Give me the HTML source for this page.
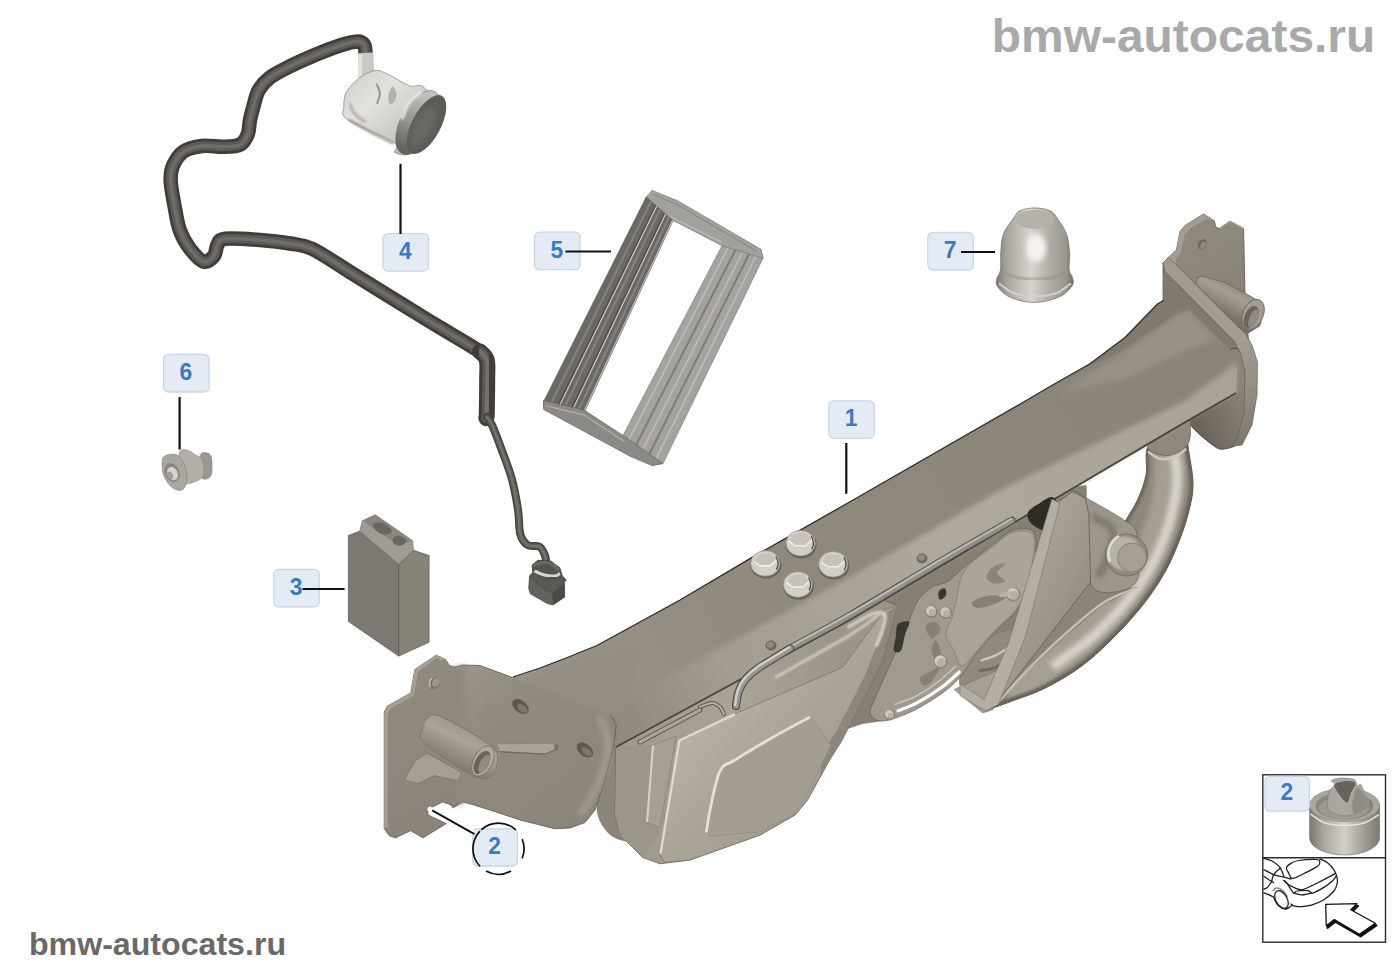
<!DOCTYPE html>
<html><head><meta charset="utf-8"><title>bmw-autocats.ru</title>
<style>
html,body{margin:0;padding:0;background:#fff;}
body{width:1400px;height:980px;overflow:hidden;position:relative;font-family:"Liberation Sans",sans-serif;}
svg{position:absolute;left:0;top:0;display:block}
text{font-family:"Liberation Sans",sans-serif;font-weight:bold}
</style></head><body>
<svg width="1400" height="980" viewBox="0 0 1400 980">
<defs>
<filter id="b0" x="-10%" y="-10%" width="120%" height="120%"><feGaussianBlur stdDeviation="0.35"/></filter>
<filter id="b1" x="-10%" y="-10%" width="120%" height="120%"><feGaussianBlur stdDeviation="0.7"/></filter>
<filter id="b2" x="-10%" y="-10%" width="120%" height="120%"><feGaussianBlur stdDeviation="1.2"/></filter>
<filter id="b3" x="-20%" y="-20%" width="140%" height="140%"><feGaussianBlur stdDeviation="2.5"/></filter>
<filter id="b5" x="-20%" y="-20%" width="140%" height="140%"><feGaussianBlur stdDeviation="5"/></filter>
<linearGradient id="sg1" x1="0" y1="0" x2="1" y2="1"><stop offset="0" stop-color="#cfcdc8"/><stop offset="0.35" stop-color="#e4e2de"/><stop offset="0.7" stop-color="#c8c6c1"/><stop offset="1" stop-color="#a9a7a2"/></linearGradient>
<linearGradient id="sg2" gradientUnits="userSpaceOnUse" x1="395" y1="100" x2="440" y2="150"><stop offset="0" stop-color="#d9d7d3"/><stop offset="0.35" stop-color="#a5a3a0"/><stop offset="1" stop-color="#5a5854"/></linearGradient>
<linearGradient id="sg3" x1="0" y1="0" x2="1" y2="0"><stop offset="0" stop-color="#5e5c58"/><stop offset="0.45" stop-color="#96948f"/><stop offset="1" stop-color="#c9c7c3"/></linearGradient>
<linearGradient id="rb1" gradientUnits="userSpaceOnUse" x1="1180" y1="220" x2="1250" y2="340"><stop offset="0" stop-color="#8f897e"/><stop offset="1" stop-color="#868075"/></linearGradient>
<linearGradient id="rb2" gradientUnits="userSpaceOnUse" x1="1165" y1="260" x2="1250" y2="440"><stop offset="0" stop-color="#a09a8f"/><stop offset="0.5" stop-color="#a39d92"/><stop offset="0.75" stop-color="#958f84"/><stop offset="1" stop-color="#7d776c"/></linearGradient>
<linearGradient id="rb3" gradientUnits="userSpaceOnUse" x1="1195" y1="420" x2="1250" y2="400"><stop offset="0" stop-color="#69635a"/><stop offset="1" stop-color="#8a8479"/></linearGradient>
<linearGradient id="rt1" gradientUnits="userSpaceOnUse" x1="1232" y1="283" x2="1218" y2="310"><stop offset="0" stop-color="#8d877c"/><stop offset="0.35" stop-color="#a59f94"/><stop offset="1" stop-color="#7a7469"/></linearGradient>
<clipPath id="hclip"><path d="M1186,425 C1186.3,428.5 1186.8,436.3 1188,446 C1189.2,455.7 1192.8,472.6 1193,483 C1193.2,493.4 1191.6,499.3 1189.5,508.5 C1187.4,517.7 1184.3,527.6 1180.3,538 C1176.3,548.4 1171.7,560.0 1165.6,571 C1159.5,582.0 1152.2,593.0 1143.6,604 C1135.0,615.0 1124.6,626.6 1114.2,637 C1103.8,647.4 1092.8,657.8 1081.2,666.4 C1069.6,675.0 1056.1,682.6 1044.5,688.4 C1032.9,694.2 1021.2,697.6 1011.4,701.3 C1001.6,705.0 990.0,709.0 985.7,710.5 L980,698 C987.0,691.3 1008.7,670.7 1022,658 C1035.3,645.3 1049.0,633.7 1060,622 C1071.0,610.3 1080.0,599.0 1088,588 C1096.0,577.0 1101.8,567.0 1108,556 C1114.2,545.0 1120.1,531.3 1125,522 C1129.9,512.7 1134.0,507.8 1137.5,500 C1141.0,492.2 1144.4,483.5 1146,475 C1147.6,466.5 1144.7,455.3 1147,449 C1149.3,442.7 1157.8,439.0 1160,437Z"/></clipPath>
<linearGradient id="hs1" gradientUnits="userSpaceOnUse" x1="640" y1="760" x2="860" y2="700"><stop offset="0" stop-color="#a19b90"/><stop offset="0.5" stop-color="#a8a297"/><stop offset="1" stop-color="#9a9489"/></linearGradient>
<linearGradient id="hs2" gradientUnits="userSpaceOnUse" x1="690" y1="735" x2="800" y2="840"><stop offset="0" stop-color="#b6b0a6"/><stop offset="0.35" stop-color="#aca69b"/><stop offset="1" stop-color="#a09a8f"/></linearGradient>
<linearGradient id="bt" gradientUnits="userSpaceOnUse" x1="560" y1="700" x2="1200" y2="340"><stop offset="0" stop-color="#989287"/><stop offset="0.35" stop-color="#8f897d"/><stop offset="1" stop-color="#8a8478"/></linearGradient>
<linearGradient id="bf" gradientUnits="userSpaceOnUse" x1="600" y1="740" x2="1230" y2="380"><stop offset="0" stop-color="#8b857a"/><stop offset="0.2" stop-color="#a29c91"/><stop offset="0.55" stop-color="#aea89d"/><stop offset="1" stop-color="#a8a297"/></linearGradient>
<linearGradient id="lb1" gradientUnits="userSpaceOnUse" x1="390" y1="700" x2="460" y2="830"><stop offset="0" stop-color="#8f897e"/><stop offset="1" stop-color="#89837a"/></linearGradient>
<linearGradient id="lb2" gradientUnits="userSpaceOnUse" x1="470" y1="670" x2="600" y2="820"><stop offset="0" stop-color="#999388"/><stop offset="0.3" stop-color="#8f897e"/><stop offset="1" stop-color="#8a8479"/></linearGradient>
<linearGradient id="lt1" gradientUnits="userSpaceOnUse" x1="462" y1="727" x2="445" y2="762"><stop offset="0" stop-color="#9e988d"/><stop offset="0.3" stop-color="#aaa499"/><stop offset="1" stop-color="#7f796e"/></linearGradient>
<linearGradient id="pl1" gradientUnits="userSpaceOnUse" x1="1010" y1="600" x2="1090" y2="640"><stop offset="0" stop-color="#a8a297"/><stop offset="0.5" stop-color="#9b958a"/><stop offset="1" stop-color="#8f897e"/></linearGradient>
<linearGradient id="cp1" gradientUnits="userSpaceOnUse" x1="997" y1="0" x2="1072" y2="0"><stop offset="0" stop-color="#7f7c75"/><stop offset="0.12" stop-color="#a5a29a"/><stop offset="0.45" stop-color="#d8d5ce"/><stop offset="0.7" stop-color="#b0ada5"/><stop offset="0.92" stop-color="#9a978f"/><stop offset="1" stop-color="#77746d"/></linearGradient>
<linearGradient id="in1" gradientUnits="userSpaceOnUse" x1="1309" y1="0" x2="1380" y2="0"><stop offset="0" stop-color="#77746d"/><stop offset="0.2" stop-color="#a8a59d"/><stop offset="0.5" stop-color="#d2cfc8"/><stop offset="0.75" stop-color="#a5a29a"/><stop offset="1" stop-color="#7a7770"/></linearGradient>
</defs>
<path d="M365.5,52 C365.2,50.8 365.3,46.2 364,44.5 C362.7,42.8 361.5,41.3 357.5,41.5 C353.5,41.7 347.1,43.2 340,45.5 C332.9,47.8 323.3,51.5 315,55 C306.7,58.5 297.5,62.5 290,66.3 C282.5,70.0 275.2,73.5 270,77.5 C264.8,81.5 261.5,85.4 258.8,90 C256.1,94.6 255.3,100.0 253.8,105 C252.3,110.0 251.0,115.2 250,120 C249.0,124.8 249.5,129.7 247.9,133.8 C246.3,137.9 244.4,142.3 240.3,144.5 C236.2,146.7 229.8,146.6 223.4,146.8 C217.0,147.1 208.6,145.2 202,146 C195.4,146.8 188.5,148.1 183.7,151.4 C178.8,154.7 175.1,160.9 172.9,165.9 C170.7,170.9 170.4,174.6 170.7,181.2 C171.0,187.8 173.0,197.5 174.5,205.7 C176.0,213.9 177.2,223.1 179.8,230.2 C182.4,237.3 185.9,243.3 189.8,248.5 C193.8,253.7 199.5,260.2 203.5,261.5 C207.5,262.8 211.5,259.0 213.8,256.2 C216.2,253.4 215.7,247.4 217.6,244.5 C219.5,241.6 217.9,239.6 225,238.8 C232.1,238.1 249.2,239.2 260,240 C270.8,240.8 281.2,242.0 290,243.5 C298.8,245.0 302.5,244.2 312.5,249 C322.5,253.8 335.4,263.0 350,272 C364.6,281.0 385.0,293.8 400,303 C415.0,312.2 427.0,319.6 440,327.5 C453.0,335.4 470.2,345.1 478,350.5 C485.8,355.9 485.0,355.1 486.5,360 C488.0,364.9 486.9,371.4 487,380 C487.1,388.6 486.9,405.3 486.8,411.8 C486.7,418.3 486.6,417.8 486.5,419" fill="none" stroke="#403e3a" stroke-width="14.5" stroke-linecap="round" stroke-linejoin="round"/>
<path d="M365.5,52 C365.2,50.8 365.3,46.2 364,44.5 C362.7,42.8 361.5,41.3 357.5,41.5 C353.5,41.7 347.1,43.2 340,45.5 C332.9,47.8 323.3,51.5 315,55 C306.7,58.5 297.5,62.5 290,66.3 C282.5,70.0 275.2,73.5 270,77.5 C264.8,81.5 261.5,85.4 258.8,90 C256.1,94.6 255.3,100.0 253.8,105 C252.3,110.0 251.0,115.2 250,120 C249.0,124.8 249.5,129.7 247.9,133.8 C246.3,137.9 244.4,142.3 240.3,144.5 C236.2,146.7 229.8,146.6 223.4,146.8 C217.0,147.1 208.6,145.2 202,146 C195.4,146.8 188.5,148.1 183.7,151.4 C178.8,154.7 175.1,160.9 172.9,165.9 C170.7,170.9 170.4,174.6 170.7,181.2 C171.0,187.8 173.0,197.5 174.5,205.7 C176.0,213.9 177.2,223.1 179.8,230.2 C182.4,237.3 185.9,243.3 189.8,248.5 C193.8,253.7 199.5,260.2 203.5,261.5 C207.5,262.8 211.5,259.0 213.8,256.2 C216.2,253.4 215.7,247.4 217.6,244.5 C219.5,241.6 217.9,239.6 225,238.8 C232.1,238.1 249.2,239.2 260,240 C270.8,240.8 281.2,242.0 290,243.5 C298.8,245.0 302.5,244.2 312.5,249 C322.5,253.8 335.4,263.0 350,272 C364.6,281.0 385.0,293.8 400,303 C415.0,312.2 427.0,319.6 440,327.5 C453.0,335.4 470.2,345.1 478,350.5 C485.8,355.9 485.0,355.1 486.5,360 C488.0,364.9 486.9,371.4 487,380 C487.1,388.6 486.9,405.3 486.8,411.8 C486.7,418.3 486.6,417.8 486.5,419" fill="none" stroke="#5c5a55" stroke-width="8.99" stroke-linecap="round" stroke-linejoin="round" filter="url(#b1)"/>
<path d="M365.5,52 C365.2,50.8 365.3,46.2 364,44.5 C362.7,42.8 361.5,41.3 357.5,41.5 C353.5,41.7 347.1,43.2 340,45.5 C332.9,47.8 323.3,51.5 315,55 C306.7,58.5 297.5,62.5 290,66.3 C282.5,70.0 275.2,73.5 270,77.5 C264.8,81.5 261.5,85.4 258.8,90 C256.1,94.6 255.3,100.0 253.8,105 C252.3,110.0 251.0,115.2 250,120 C249.0,124.8 249.5,129.7 247.9,133.8 C246.3,137.9 244.4,142.3 240.3,144.5 C236.2,146.7 229.8,146.6 223.4,146.8 C217.0,147.1 208.6,145.2 202,146 C195.4,146.8 188.5,148.1 183.7,151.4 C178.8,154.7 175.1,160.9 172.9,165.9 C170.7,170.9 170.4,174.6 170.7,181.2 C171.0,187.8 173.0,197.5 174.5,205.7 C176.0,213.9 177.2,223.1 179.8,230.2 C182.4,237.3 185.9,243.3 189.8,248.5 C193.8,253.7 199.5,260.2 203.5,261.5 C207.5,262.8 211.5,259.0 213.8,256.2 C216.2,253.4 215.7,247.4 217.6,244.5 C219.5,241.6 217.9,239.6 225,238.8 C232.1,238.1 249.2,239.2 260,240 C270.8,240.8 281.2,242.0 290,243.5 C298.8,245.0 302.5,244.2 312.5,249 C322.5,253.8 335.4,263.0 350,272 C364.6,281.0 385.0,293.8 400,303 C415.0,312.2 427.0,319.6 440,327.5 C453.0,335.4 470.2,345.1 478,350.5 C485.8,355.9 485.0,355.1 486.5,360 C488.0,364.9 486.9,371.4 487,380 C487.1,388.6 486.9,405.3 486.8,411.8 C486.7,418.3 486.6,417.8 486.5,419" fill="none" stroke="#6f6d67" stroke-width="3.625" stroke-linecap="round" stroke-linejoin="round" filter="url(#b1)"/>
<path d="M480,351.5 C481.1,352.9 485.6,355.2 486.8,360 C488.0,364.8 487.2,371.4 487.2,380 C487.2,388.6 486.9,405.5 486.8,411.8 C486.7,418.1 486.4,417.0 486.3,418" fill="none" stroke="#403e3a" stroke-width="16" stroke-linecap="round" stroke-linejoin="round"/>
<path d="M480,351.5 C481.1,352.9 485.6,355.2 486.8,360 C488.0,364.8 487.2,371.4 487.2,380 C487.2,388.6 486.9,405.5 486.8,411.8 C486.7,418.1 486.4,417.0 486.3,418" fill="none" stroke="#5c5a55" stroke-width="9.92" stroke-linecap="round" stroke-linejoin="round" filter="url(#b1)"/>
<path d="M480,351.5 C481.1,352.9 485.6,355.2 486.8,360 C488.0,364.8 487.2,371.4 487.2,380 C487.2,388.6 486.9,405.5 486.8,411.8 C486.7,418.1 486.4,417.0 486.3,418" fill="none" stroke="#73716b" stroke-width="4.0" stroke-linecap="round" stroke-linejoin="round" filter="url(#b1)"/>
<path d="M487.5,370 L487.5,396" stroke="#d9d8d4" stroke-width="3" stroke-linecap="round" fill="none" filter="url(#b2)"/>
<path d="M487,417 C487.8,418.3 489.6,419.8 492,425 C494.4,430.2 497.9,439.5 501.2,448.5 C504.5,457.5 509.1,468.9 511.9,479.1 C514.7,489.3 516.6,500.5 518,509.7 C519.4,518.9 518.7,528.2 520.3,534.1 C521.9,540.0 524.3,542.9 527.5,545 C530.7,547.1 536.5,544.9 539.4,546.6 C542.3,548.4 543.8,552.3 545,555.5 C546.2,558.7 546.2,564.2 546.5,566" fill="none" stroke="#45433f" stroke-width="8" stroke-linecap="round" stroke-linejoin="round"/>
<path d="M487,417 C487.8,418.3 489.6,419.8 492,425 C494.4,430.2 497.9,439.5 501.2,448.5 C504.5,457.5 509.1,468.9 511.9,479.1 C514.7,489.3 516.6,500.5 518,509.7 C519.4,518.9 518.7,528.2 520.3,534.1 C521.9,540.0 524.3,542.9 527.5,545 C530.7,547.1 536.5,544.9 539.4,546.6 C542.3,548.4 543.8,552.3 545,555.5 C546.2,558.7 546.2,564.2 546.5,566" fill="none" stroke="#605e59" stroke-width="4.96" stroke-linecap="round" stroke-linejoin="round" filter="url(#b1)"/>
<path d="M487,417 C487.8,418.3 489.6,419.8 492,425 C494.4,430.2 497.9,439.5 501.2,448.5 C504.5,457.5 509.1,468.9 511.9,479.1 C514.7,489.3 516.6,500.5 518,509.7 C519.4,518.9 518.7,528.2 520.3,534.1 C521.9,540.0 524.3,542.9 527.5,545 C530.7,547.1 536.5,544.9 539.4,546.6 C542.3,548.4 543.8,552.3 545,555.5 C546.2,558.7 546.2,564.2 546.5,566" fill="none" stroke="#75736d" stroke-width="2.0" stroke-linecap="round" stroke-linejoin="round" filter="url(#b1)"/>
<path d="M358.3,53.3 L373.4,52.6 L374.1,71.8 L369.8,79.8 L358.5,79.8Z" fill="#cbc9c4" />
<path d="M359.9,54.6 C360.0,56.6 360.1,62.5 360.3,66.5 C360.5,70.5 361.1,76.5 361.2,78.5" stroke="#e3e1dd" stroke-width="5" fill="none" filter="url(#b1)"/>
<path d="M373.8,70.8 C378.3,69.9 379.7,70.7 385.7,73.2 C391.7,75.7 403.4,83.5 409.6,85.8 C415.8,88.0 418.7,83.3 422.9,86.7 C427.1,90.1 436.1,95.7 434.8,106.3 C433.5,116.9 421.5,142.3 414.9,150.1 C408.3,157.8 398.5,154.1 395.0,152.8 C391.5,151.5 401.6,147.7 393.7,142.2 C385.8,136.7 355.6,125.6 347.3,119.6 C339.0,113.6 344.3,110.3 343.9,106.3 C343.5,102.3 344.2,98.5 344.9,95.7 C345.6,93.0 345.6,92.7 347.9,89.8 C350.2,86.9 354.2,81.7 358.5,78.5 C362.8,75.3 369.3,71.7 373.8,70.8Z" fill="url(#sg1)" stroke="#8e8c87" stroke-width="0.8"/>
<path d="M376.4,83.8 C377.0,85.3 379.7,89.8 379.8,93.1 C379.9,96.4 377.6,101.9 377.1,103.7" stroke="#9a9893" stroke-width="2.2" fill="none" filter="url(#b1)"/>
<path d="M392.4,86.4 C393.7,86.0 395.9,90.7 396.3,93.1 C396.7,95.5 396.1,99.2 395.0,101.0 C393.9,102.8 390.8,104.6 389.7,103.7 C388.6,102.8 387.9,98.6 388.4,95.7 C388.8,92.8 391.1,86.8 392.4,86.4Z" fill="#b3b1ac" filter="url(#b1)"/>
<path d="M349.9,103.7 C350.8,105.5 352.5,111.2 355.2,114.3 C357.9,117.4 364.0,121.0 365.8,122.3" stroke="#b5b3ae" stroke-width="3" fill="none" filter="url(#b2)"/>
<path d="M348.6,119.6 C352.1,121.6 362.3,127.6 369.8,131.6 C377.3,135.6 389.7,141.5 393.7,143.5" stroke="#9c9a95" stroke-width="2.5" fill="none" filter="url(#b2)"/>
<g transform="translate(418.3,122.6) rotate(-62)"><ellipse cx="0" cy="0" rx="35" ry="17.5" fill="url(#sg3)" stroke="#6f6d69" stroke-width="0.6"/></g>
<g transform="translate(426.5,124.5) rotate(-62)"><ellipse cx="0" cy="0" rx="32.5" ry="14.3" fill="#5d5b56"/><ellipse cx="-4" cy="-2" rx="22" ry="9" fill="#696762" filter="url(#b3)"/></g>
<path d="M401.7,119.6 C403.0,116.7 406.3,107.0 409.6,102.4 C412.9,97.8 419.6,93.6 421.6,91.8" stroke="#e9e8e5" stroke-width="3" fill="none" filter="url(#b2)"/>
<path d="M532.0,565.2 L537.8,560.3 L550.8,561.1 L559.8,567.7 L562.2,575.8 L566.3,579.9 L564.3,582.3 L564.7,597.0 L553.3,604.8 L547.6,603.6 L530.4,593.8 L528.8,588.1 L529.6,575.8 L532.9,572.6Z" fill="#55534f" stroke="#3c3a37" stroke-width="0.8" stroke-linejoin="round"/>
<path d="M529.6,575.8 L536.9,584.0 L548.4,592.1 L552.4,593.8 L553.3,604.8 L547.6,603.6 L530.4,593.8 L528.8,588.1Z" fill="#63615c" />
<path d="M552.4,593.8 L564.3,584.0 L564.7,597.0 L553.3,604.8Z" fill="#4b4945" />
<path d="M530.4,575.0 L537.8,583.2 L548.4,591.3 L552.4,593.0 L562.2,584.0 L560.6,577.4 L555.7,580.7 L544.3,579.1 L534.5,573.4Z" fill="#5b5955" />
<path d="M534.5,570.9 C536.1,571.6 540.8,574.2 544.3,575.0 C547.8,575.8 553.1,576.1 555.7,575.8 C558.3,575.5 559.1,573.8 559.8,573.4" stroke="#d8d7d4" stroke-width="3" fill="none" filter="url(#b1)"/>
<path d="M533.3,566.0 C534.6,565.5 538.1,563.2 541.0,562.8 C543.9,562.4 547.8,562.4 550.8,563.6 C553.8,564.8 557.6,569.0 559.0,570.1" stroke="#6b6964" stroke-width="3" fill="none" filter="url(#b1)"/>
<path d="M1163.6,262.9 L1168.6,257.1 L1176.4,250.0 L1180.0,231.4 L1185.7,225.0 L1203.6,214.0 L1214.3,220.7 L1215.7,227.1 L1219.3,228.6 L1230.0,221.4 L1243.6,228.6 L1245.0,292.9 L1248.6,342.9 L1197.1,314.3Z" fill="url(#rb1)" stroke="#5a554d" stroke-width="0.8" stroke-linejoin="round"/>
<path d="M1164.3,262.6 L1168.6,257.1 L1176.4,250.0 L1180.0,231.4 L1185.7,225.0 L1203.6,214.0 L1214.3,220.7 L1207.1,218.6 L1190.0,228.6 L1184.6,235.0 L1181.4,251.4 L1175.7,260.0 L1175.7,264.3Z" fill="#a39d92" />
<path d="M1219.3,228.6 L1230.0,221.4 L1243.6,228.6" fill="none" stroke="#a39d92" stroke-width="1.6" stroke-linejoin="round"/>
<ellipse cx="1202.5" cy="244.5" rx="4.2" ry="5.4" fill="#6d675d" transform="rotate(25 1202.5 244.5)"/>
<ellipse cx="1203.3" cy="245.3" rx="2.8" ry="3.8" fill="#8d877c" transform="rotate(25 1203.3 245.3)"/>
<path d="M1162.9,262.5 L1165,271.4 L1234,341 L1241,353 L1238,360 L1188.6,314 L1176,314 L1163,302Z" fill="#7f796e" stroke="#5a554d" stroke-width="0.6"/>
<path d="M1230,350 C1239.9,343.3 1244.2,358.3 1247.5,365 C1250.8,371.7 1250.1,380.8 1250,390 C1249.9,399.2 1248.7,411.3 1247,420 C1245.3,428.7 1243.8,437.2 1240,442 C1236.2,446.8 1228.6,448.5 1224,449 C1219.4,449.5 1218.2,449.2 1212.5,445 C1206.8,440.8 1194.1,430.7 1190,424 C1185.9,417.3 1181.3,417.3 1188,405 C1194.7,392.7 1220.1,356.7 1230,350Z" fill="url(#rb3)" stroke="#3f3b35" stroke-width="0.8"/>
<path d="M1163,263 L1165,271.4 L1234,341 L1240.5,353 L1245,372 L1244,413 L1237,439 L1232,446 L1242,445 L1252,425 L1257,395 L1257.5,362 L1252,345 L1245,333 L1175.7,264.3 L1168.6,257.5Z" fill="url(#rb2)" stroke="#5a554d" stroke-width="0.6" stroke-linejoin="round"/>
<path d="M1195.4,283.6 L1197.9,277.9 L1201.4,276.1 L1225.7,282.6 L1254.3,298.3 L1264.3,308.6 L1260.0,325.7 L1248.6,332.9 L1240.0,328.6 L1196.4,285.0Z" fill="url(#rt1)" stroke="#5a554d" stroke-width="0.6" stroke-linejoin="round"/>
<ellipse cx="1253" cy="314.3" rx="10.2" ry="15.8" fill="#a39d92" stroke="#6b665d" stroke-width="0.8" transform="rotate(24 1253 314.3)"/>
<ellipse cx="1251.2" cy="317" rx="6.6" ry="11.6" fill="#6a645a" transform="rotate(24 1251.2 317)"/>
<ellipse cx="1253.5" cy="318.2" rx="4.2" ry="9.5" fill="#8f897f" transform="rotate(24 1253.5 318.2)"/>
<path d="M880.6,581.2 L931.6,550.6 L1013.3,503.7 L1054.1,487.3 L1086.7,485.3 L1086.7,515.9 L1054.1,560.8 L1013.3,642.4 L972.4,662.9 L960.2,677.1 L941.8,693.5 L911.2,711.8 L882.7,721.0 L862.2,724.1 L837.8,732.2 L858.2,662.9Z" fill="#857f74"/>
<path d="M1186,425 C1186.3,428.5 1186.8,436.3 1188,446 C1189.2,455.7 1192.8,472.6 1193,483 C1193.2,493.4 1191.6,499.3 1189.5,508.5 C1187.4,517.7 1184.3,527.6 1180.3,538 C1176.3,548.4 1171.7,560.0 1165.6,571 C1159.5,582.0 1152.2,593.0 1143.6,604 C1135.0,615.0 1124.6,626.6 1114.2,637 C1103.8,647.4 1092.8,657.8 1081.2,666.4 C1069.6,675.0 1056.1,682.6 1044.5,688.4 C1032.9,694.2 1021.2,697.6 1011.4,701.3 C1001.6,705.0 990.0,709.0 985.7,710.5 L980,698 C987.0,691.3 1008.7,670.7 1022,658 C1035.3,645.3 1049.0,633.7 1060,622 C1071.0,610.3 1080.0,599.0 1088,588 C1096.0,577.0 1101.8,567.0 1108,556 C1114.2,545.0 1120.1,531.3 1125,522 C1129.9,512.7 1134.0,507.8 1137.5,500 C1141.0,492.2 1144.4,483.5 1146,475 C1147.6,466.5 1144.7,455.3 1147,449 C1149.3,442.7 1157.8,439.0 1160,437Z" fill="#8d877c" stroke="#4a463f" stroke-width="0.9"/>
<g clip-path="url(#hclip)">
<path d="M1168,430 C1168.3,436.7 1170.2,458.3 1170,470 C1169.8,481.7 1169.0,489.7 1167,500 C1165.0,510.3 1162.0,521.0 1158,532 C1154.0,543.0 1149.7,554.3 1143,566 C1136.3,577.7 1127.7,590.3 1118,602 C1108.3,613.7 1097.0,625.3 1085,636 C1073.0,646.7 1059.3,656.7 1046,666 C1032.7,675.3 1011.8,687.7 1005,692" fill="none" stroke="#a49e93" stroke-width="30" filter="url(#b3)"/>
<path d="M1175,455 C1175.3,459.5 1177.3,473.2 1177,482 C1176.7,490.8 1175.2,498.7 1173,508 C1170.8,517.3 1168.2,527.3 1164,538 C1159.8,548.7 1155.0,560.5 1148,572 C1141.0,583.5 1131.7,595.8 1122,607 C1112.3,618.2 1101.7,629.0 1090,639 C1078.3,649.0 1058.3,662.3 1052,667" fill="none" stroke="#d6d2c9" stroke-width="10" filter="url(#b3)"/>
<path d="M1186,425 C1186.3,428.5 1186.8,436.3 1188,446 C1189.2,455.7 1192.8,472.6 1193,483 C1193.2,493.4 1191.6,499.3 1189.5,508.5 C1187.4,517.7 1184.3,527.6 1180.3,538 C1176.3,548.4 1171.7,560.0 1165.6,571 C1159.5,582.0 1152.2,593.0 1143.6,604 C1135.0,615.0 1124.6,626.6 1114.2,637 C1103.8,647.4 1092.8,657.8 1081.2,666.4 C1069.6,675.0 1056.1,682.6 1044.5,688.4 C1032.9,694.2 1021.2,697.6 1011.4,701.3 C1001.6,705.0 990.0,709.0 985.7,710.5" fill="none" stroke="#6a645a" stroke-width="7" filter="url(#b2)"/>
<path d="M1160,437 C1157.8,439.0 1149.3,442.7 1147,449 C1144.7,455.3 1147.6,466.5 1146,475 C1144.4,483.5 1141.0,492.2 1137.5,500 C1134.0,507.8 1129.9,512.7 1125,522 C1120.1,531.3 1114.2,545.0 1108,556 C1101.8,567.0 1096.0,577.0 1088,588 C1080.0,599.0 1071.0,610.3 1060,622 C1049.0,633.7 1035.3,645.3 1022,658 C1008.7,670.7 987.0,691.3 980,698" fill="none" stroke="#6f695f" stroke-width="6" filter="url(#b2)"/>
</g>
<path d="M1148.0,448.0 C1146.3,443.8 1151.1,435.5 1157.5,430.0 C1163.9,424.5 1180.7,414.8 1186.2,415.0 C1191.7,415.2 1190.5,426.0 1190.5,431.2 C1190.5,436.4 1190.0,442.1 1186.2,446.2 C1182.4,450.2 1173.9,455.2 1167.5,455.5 C1161.1,455.8 1149.7,452.2 1148.0,448.0Z" fill="#8e887d" stroke="#5a554d" stroke-width="0.6"/>
<path d="M1148.0,451.8 C1150.0,453.0 1155.5,457.9 1160.0,458.8 C1164.5,459.7 1170.6,458.7 1175.0,457.0 C1179.4,455.3 1184.3,450.2 1186.2,448.8" fill="none" stroke="#cdc9bf" stroke-width="2.5" filter="url(#b1)"/>
<path d="M605,770 C607.5,758.8 606.2,750.8 612,745 C617.8,739.2 635.3,720.8 640,735 C644.7,749.2 644.2,812.8 640,830 C635.8,847.2 622.2,841.0 615,838 C607.8,835.0 598.7,823.3 597,812 C595.3,800.7 602.5,781.2 605,770Z" fill="#8a8479"/>
<path d="M616.2,745.0 L635.0,710.0 L732.5,660.0 L870.0,595.0 L897.0,605.5 L883.0,659.0 L869.5,687.0 L857.0,711.0 L841.5,741.0 L829.5,760.0 L807.5,800.0 L795.0,815.0 L760.0,835.0 L690.0,860.0 L660.0,863.8 L642.5,857.5 L620.0,835.0 L615.0,815.0Z" fill="url(#hs1)" stroke="#5a554d" stroke-width="0.7" stroke-linejoin="round"/>
<path d="M616.2,746.2 L652.5,745.0 L646.2,822.5 L660.0,827.5 L658.8,835.0 L642.5,857.5 L620.0,835.0 L615.0,815.0Z" fill="#9b958a"/>
<path d="M652.5,745.0 L676.2,736.2 L660.0,827.5 L646.2,822.5Z" fill="#a59f94" stroke="#7a7469" stroke-width="0.5"/>
<path d="M653.0,745.5 L647.0,822.0" fill="none" stroke="#d5d1c8" stroke-width="2.2" />
<path d="M678.8,740.0 L735.0,713.8 L842.5,667.5 L885.0,610.0 L897.0,605.5 L883.0,659.0 L869.5,687.0 L857.0,711.0 L841.5,741.0 L829.5,760.0 L807.5,800.0 L795.0,815.0 L760.0,835.0 L690.0,860.0 L665.0,862.5 L660.0,855.0Z" fill="url(#hs2)" stroke="#6f695f" stroke-width="0.6" stroke-linejoin="round"/>
<path d="M660.5,853.8 L679.2,740.5 L735.0,714.2" fill="none" stroke="#dedad2" stroke-width="2.4" stroke-linejoin="round" filter="url(#b1)"/>
<path d="M886.8,612.5 L897.0,605.5 L883.0,659.0 L869.5,687.0 L857.0,711.0 L841.5,741.0 L829.5,760.0 L820.0,777.5 L822.0,752.0 L834.8,734.0 L852.0,701.0 L866.0,673.0 L876.0,647.0Z" fill="#8c867b"/>
<path d="M847.5,627.5 C851.7,625.2 866.2,615.9 872.5,613.8 C878.8,611.7 883.3,612.3 885.0,615.0 C886.7,617.7 884.0,624.7 882.5,630.0 C881.0,635.3 877.1,644.2 876.0,647.0" fill="none" stroke="#dcd8cf" stroke-width="3" filter="url(#b2)"/>
<path d="M710.0,836.2 L704.5,828.0 L720.0,770.0 L735.0,758.8 L810.0,716.2 L831.2,745.0 L806.2,796.2 L795.0,813.0 L760.0,832.0Z" fill="#a39d92" stroke="#8a8479" stroke-width="0.5" stroke-linejoin="round"/>
<path d="M706.2,832.5 C706.8,828.8 707.7,820.2 710.0,810.0 C712.3,799.8 715.8,779.5 720.0,771.2 C724.2,762.9 726.2,765.6 735.0,760.0 C743.8,754.4 760.0,744.7 772.5,737.5 C785.0,730.3 803.8,720.4 810.0,717.0" fill="none" stroke="#e4e1da" stroke-width="2.8" filter="url(#b1)"/>
<path d="M775.0,677.5 C787.5,670.4 832.5,645.6 850.0,635.0 C867.5,624.4 875.0,617.3 880.0,613.8" fill="none" stroke="#cfcbc2" stroke-width="3" filter="url(#b2)"/>
<path d="M1050,386.5 L1090,363.8 L1125,337.5 L1157.5,304 L1163.7,300.3 L1180,310 L1190,318 L1100,380Z" fill="#7f796e" />
<path d="M512.9,677 L540,668 L568.6,657 L597,645.5 L680,600 L750,558.6 L850,501.8 L1027.5,399.8 L1075,372.5 L1120,352 L1178,313 L1189,310 L1237.5,357 L1236,392.5 L1188,420 L1144,445.7 L1070,489.3 L1018.6,519 L850,619 L616,746 L610,728 L600,718 L508,684Z" fill="url(#bt)"/>
<path d="M1060,392 L1120,356 L1178,315 L1189,311 L1215,338 L1120,380Z" fill="#979186" filter="url(#b3)"/>
<path d="M1237,362 L1185,401 L1080,451 L1000,490 L850,577 L612,707 L616,746 L850,619 L1018.6,519 L1070,489.3 L1144,445.7 L1188,420 L1236,392.5Z" fill="url(#bf)" filter="url(#b3)"/>
<path d="M1237,368 L1185,408 L1080,458 L1000,497 L850,585 L614,715 L616,746 L850,619 L1018.6,519 L1070,489.3 L1144,445.7 L1188,420 L1236,392.5Z" fill="url(#bf)"/>
<path d="M512.9,677 L540,668 L568.6,657 L597,645.5 L680,600 L750,558.6 L850,501.8 L1027.5,399.8 L1050,386.5 L1090,363.8 L1125,337.5 L1157.5,304 L1163.7,300.3" fill="none" stroke="#2f2c27" stroke-width="1.3" stroke-linejoin="round"/>
<path d="M616,747 L850,620 L1018.6,520 L1070,490 L1144,446.4 L1188,420.6 L1236,393" fill="none" stroke="#4a453e" stroke-width="1.8" stroke-linejoin="round" filter="url(#b1)"/>
<path d="M455,667 L462.5,665 L480,665.5 L512.5,677.5 L610,712.5 L616.3,725 L613.8,745 L605,780 L595,810 L585,822.5 L570,828 L555,828.8 L520,820 L490,810 L470,803.8 L462.8,802 L452.6,808 L446,800Z" fill="url(#lb2)"/>
<path d="M610,712.5 L616.3,725 L613.8,745 L605,780 L595,810 L585,822.5 L570,828 L555,828.8 L520,820 L490,810 L470,803.8 L462.8,802 L452.6,808" fill="none" stroke="#5a554d" stroke-width="0.8" stroke-linejoin="round"/>
<path d="M455,667 L462.5,665 L480,665.5 L512.5,677.5" fill="none" stroke="#5a554d" stroke-width="0.8" stroke-linejoin="round"/>
<path d="M520,681 L560,666 L600,652 L640,650 L630,700 L612,716Z" fill="#938d82" filter="url(#b3)"/>
<path d="M600,716 C601.3,720.8 608.3,733.5 608,745 C607.7,756.5 602.7,773.3 598,785 C593.3,796.7 583.0,810.0 580,815" fill="none" stroke="#a19b90" stroke-width="7" filter="url(#b3)"/>
<path d="M384.2,712.3 L387.2,706.2 L410.7,693.0 L414.8,669.5 L436.2,655.2 L445.4,659.3 L449.5,665.4 L455.0,667.0 L458.7,685.8 L459.7,747.0 L461.7,796.0 L455.6,806.2 L442.3,802.1 L434.2,806.2 L428.5,809.3 L427.7,814.4 L433.2,817.4 L446.4,823.6 L423.0,837.9 L410.7,830.7 L395.4,837.9 L389.3,835.8 L384.2,828.7Z" fill="url(#lb1)" stroke="#5a554d" stroke-width="0.7" stroke-linejoin="round"/>
<path d="M384.2,713.4 L387.2,706.2 L410.7,693.0 L414.8,669.5 L436.2,655.2 L445.4,659.3 L442.3,660.9 L436.2,658.5 L418.3,671.5 L414.2,695.2 L390.3,708.7 L387.7,714.4 L387.7,826.6 L384.2,828.7Z" fill="#a49e93" />
<path d="M453.6,667.4 L464.8,665.4 L466.8,726.6 L466.8,800.1 L456.6,806.2Z" fill="#8f897e" filter="url(#b3)"/>
<ellipse cx="434.5" cy="683.5" rx="5" ry="6.5" fill="#7a7469" transform="rotate(30 434.5 683.5)"/>
<ellipse cx="436" cy="682.5" rx="3.6" ry="5" fill="#9a9489" transform="rotate(30 436 682.5)"/>
<path d="M430.5,687 A5,6.5 30 0 1 432,678" stroke="#c9c4ba" stroke-width="1.3" fill="none"/>
<ellipse cx="520.5" cy="706.5" rx="9.4" ry="6" fill="#5d574e" transform="rotate(38 520.5 706.5)"/>
<ellipse cx="522.3" cy="708.3" rx="6" ry="3.2" fill="#7d776c" transform="rotate(38 522.3 708.3)" filter="url(#b1)"/>
<ellipse cx="585" cy="750" rx="9.4" ry="6" fill="#5d574e" transform="rotate(38 585 750)"/>
<ellipse cx="586.8" cy="751.8" rx="6" ry="3.2" fill="#7d776c" transform="rotate(38 586.8 751.8)" filter="url(#b1)"/>
<path d="M496.2,743.8 L555.0,743.2 L554.5,750.0 L545.0,754.0 L500.0,751.5Z" fill="#a8a297" stroke="#7a7469" stroke-width="0.5"/>
<path d="M554.5,743.2 L558.0,745.0 L557.5,751.5 L554.5,750.0Z" fill="#777166" />
<path d="M500.0,751.8 L545.0,754.2 L554.5,750.2" fill="none" stroke="#6f695f" stroke-width="1.2" filter="url(#b1)"/>
<path d="M404.6,779.7 L414.8,761.3 L427.0,753.2 L461.7,772.6 L457.7,780.7 L434.2,775.6 L417.9,783.8Z" fill="#a59f94" stroke="#6f695f" stroke-width="0.6" stroke-linejoin="round"/>
<path d="M422.3,730.7 C422.6,727.0 423.0,722.5 426.0,720.1 C429.0,717.7 429.8,712.3 440.3,716.4 C450.9,720.5 479.8,737.5 489.3,744.6 C498.8,751.8 497.1,754.1 497.4,759.3 C497.7,764.5 495.4,772.9 491.3,775.6 C487.2,778.3 484.2,781.1 473.0,775.6 C461.8,770.1 432.4,750.1 424.0,742.6 C415.6,735.1 422.0,734.5 422.3,730.7Z" fill="url(#lt1)" stroke="#6f695f" stroke-width="0.6"/>
<ellipse cx="483" cy="761" rx="9.5" ry="16.5" fill="#b0aa9f" stroke="#6b665d" stroke-width="0.7" transform="rotate(28 483 761)"/>
<ellipse cx="482" cy="762.5" rx="6.8" ry="12.6" fill="#6a645a" transform="rotate(28 482 762.5)"/>
<ellipse cx="484.3" cy="763.8" rx="4.4" ry="10" fill="#918b81" transform="rotate(28 484.3 763.8)"/>
<ellipse cx="801.2" cy="544.8000000000001" rx="15.6" ry="13.6" fill="#6a645a" filter="url(#b1)"/>
<ellipse cx="800.6" cy="543.2" rx="14.6" ry="12.8" fill="#d2cfc8" stroke="#8f897e" stroke-width="0.6"/>
<path d="M789.1,541.2 L794.6,533.7 L806.1,533.2 L811.6,540.2 L805.6,545.7 L795.1,545.7Z" fill="#c6c2ba" stroke-linejoin="round"/>
<path d="M789.1,541.2 L795.1,545.7 L805.6,545.7 L811.6,540.2" fill="none" stroke="#f1f0ec" stroke-width="1.6" stroke-linejoin="round" filter="url(#b1)"/>
<path d="M811.1,536.2 Q815.6,543.2 811.6,549.2" fill="none" stroke="#4f4a42" stroke-width="1.3" filter="url(#b1)"/>
<ellipse cx="765.9" cy="565.0" rx="15.6" ry="13.6" fill="#6a645a" filter="url(#b1)"/>
<ellipse cx="765.3" cy="563.4" rx="14.6" ry="12.8" fill="#d2cfc8" stroke="#8f897e" stroke-width="0.6"/>
<path d="M753.8,561.4 L759.3,553.9 L770.8,553.4 L776.3,560.4 L770.3,565.9 L759.8,565.9Z" fill="#c6c2ba" stroke-linejoin="round"/>
<path d="M753.8,561.4 L759.8,565.9 L770.3,565.9 L776.3,560.4" fill="none" stroke="#f1f0ec" stroke-width="1.6" stroke-linejoin="round" filter="url(#b1)"/>
<path d="M775.8,556.4 Q780.3,563.4 776.3,569.4" fill="none" stroke="#4f4a42" stroke-width="1.3" filter="url(#b1)"/>
<ellipse cx="833.8000000000001" cy="565.9" rx="15.6" ry="13.6" fill="#6a645a" filter="url(#b1)"/>
<ellipse cx="833.2" cy="564.3" rx="14.6" ry="12.8" fill="#d2cfc8" stroke="#8f897e" stroke-width="0.6"/>
<path d="M821.7,562.3 L827.2,554.8 L838.7,554.3 L844.2,561.3 L838.2,566.8 L827.7,566.8Z" fill="#c6c2ba" stroke-linejoin="round"/>
<path d="M821.7,562.3 L827.7,566.8 L838.2,566.8 L844.2,561.3" fill="none" stroke="#f1f0ec" stroke-width="1.6" stroke-linejoin="round" filter="url(#b1)"/>
<path d="M843.7,557.3 Q848.2,564.3 844.2,570.3" fill="none" stroke="#4f4a42" stroke-width="1.3" filter="url(#b1)"/>
<ellipse cx="798.5" cy="586.1" rx="15.6" ry="13.6" fill="#6a645a" filter="url(#b1)"/>
<ellipse cx="797.9" cy="584.5" rx="14.6" ry="12.8" fill="#d2cfc8" stroke="#8f897e" stroke-width="0.6"/>
<path d="M786.4,582.5 L791.9,575.0 L803.4,574.5 L808.9,581.5 L802.9,587.0 L792.4,587.0Z" fill="#c6c2ba" stroke-linejoin="round"/>
<path d="M786.4,582.5 L792.4,587.0 L802.9,587.0 L808.9,581.5" fill="none" stroke="#f1f0ec" stroke-width="1.6" stroke-linejoin="round" filter="url(#b1)"/>
<path d="M808.4,577.5 Q812.9,584.5 808.9,590.5" fill="none" stroke="#4f4a42" stroke-width="1.3" filter="url(#b1)"/>
<path d="M1012,520.5 C1001.7,526.4 977.0,540.2 950,556 C923.0,571.8 876.7,600.1 850,615.5 C823.3,630.9 803.0,641.2 790,648.5 C777.0,655.8 777.5,656.1 772,659.5 C766.5,662.9 761.5,665.6 757,669 C752.5,672.4 748.1,676.2 745,680 C741.9,683.8 740.0,687.7 738.5,692 C737.0,696.3 736.4,703.7 736,706" fill="none" stroke="#55514a" stroke-width="7.6" stroke-linecap="round"/>
<path d="M1012,520.5 C1001.7,526.4 977.0,540.2 950,556 C923.0,571.8 876.7,600.1 850,615.5 C823.3,630.9 803.0,641.2 790,648.5 C777.0,655.8 777.5,656.1 772,659.5 C766.5,662.9 761.5,665.6 757,669 C752.5,672.4 748.1,676.2 745,680 C741.9,683.8 740.0,687.7 738.5,692 C737.0,696.3 736.4,703.7 736,706" fill="none" stroke="#918f8c" stroke-width="5.6" stroke-linecap="round"/>
<path d="M1011.2,519.2 C1000.9,525.1 976.2,538.9 949.2,554.7 C922.2,570.5 875.9,598.8 849.2,614.2 C822.5,629.6 802.2,639.9 789.2,647.2 C776.2,654.5 776.7,654.8 771.2,658.2 C765.7,661.6 760.7,664.3 756.2,667.7 C751.7,671.1 747.3,674.9 744.2,678.7 C741.1,682.5 739.2,686.4 737.7,690.7 C736.2,695.0 735.6,702.4 735.2,704.7" fill="none" stroke="#bdbbb7" stroke-width="2" stroke-linecap="round"/>
<path d="M790,648.5 C787.0,650.3 777.5,656.1 772,659.5 C766.5,662.9 761.5,665.6 757,669 C752.5,672.4 748.1,676.2 745,680 C741.9,683.8 740.0,687.7 738.5,692 C737.0,696.3 736.4,703.7 736,706" fill="none" stroke="#4f4b44" stroke-width="8" stroke-linecap="round"/>
<path d="M790,648.5 C787.0,650.3 777.5,656.1 772,659.5 C766.5,662.9 761.5,665.6 757,669 C752.5,672.4 748.1,676.2 745,680 C741.9,683.8 740.0,687.7 738.5,692 C737.0,696.3 736.4,703.7 736,706" fill="none" stroke="#999792" stroke-width="6" stroke-linecap="round"/>
<path d="M789.2,647.3 C786.2,649.1 776.7,654.9 771.2,658.3 C765.7,661.7 760.7,664.4 756.2,667.8 C751.7,671.2 747.3,675.0 744.2,678.8 C741.1,682.6 739.2,686.5 737.7,690.8 C736.2,695.1 735.6,702.5 735.2,704.8" fill="none" stroke="#d2d0ca" stroke-width="2.2" stroke-linecap="round"/>
<ellipse cx="771" cy="645.5" rx="5.5" ry="5" fill="#6f695f"/>
<ellipse cx="770.3" cy="644.6" rx="3.6" ry="3.2" fill="#8f897e"/>
<ellipse cx="922" cy="558.5" rx="5.5" ry="5" fill="#6f695f"/>
<ellipse cx="921.3" cy="557.6" rx="3.6" ry="3.2" fill="#8f897e"/>
<path d="M700,707 C702.0,706.3 708.7,703.0 712,703 C715.3,703.0 718.0,705.2 720,707 C722.0,708.8 723.3,712.8 724,714" fill="none" stroke="#5a554d" stroke-width="4" stroke-linecap="round"/>
<path d="M700,707 C702.0,706.3 708.7,703.0 712,703 C715.3,703.0 718.0,705.2 720,707 C722.0,708.8 723.3,712.8 724,714" fill="none" stroke="#b5b1a8" stroke-width="2.2" stroke-linecap="round"/>
<path d="M640,742 C645.0,739.3 660.0,731.3 670,726 C680.0,720.7 695.0,712.7 700,710" fill="none" stroke="#5a554d" stroke-width="5" stroke-linecap="round"/>
<path d="M640,742 C645.0,739.3 660.0,731.3 670,726 C680.0,720.7 695.0,712.7 700,710" fill="none" stroke="#aaa69d" stroke-width="3.2" stroke-linecap="round"/>
<path d="M964.3,662.9 C967.7,655.4 972.4,647.8 980.6,642.4 C988.8,637.0 1006.5,630.2 1013.3,630.2 C1020.1,630.2 1022.1,633.5 1021.4,642.4 C1020.7,651.2 1015.7,673.1 1009.2,683.3 C1002.8,693.5 990.9,703.0 982.7,703.7 C974.5,704.4 963.3,694.1 960.2,687.3 C957.1,680.5 960.9,670.4 964.3,662.9Z" fill="#8f897e"/>
<path d="M980.6,660.8 C983.3,659.8 991.5,657.4 996.9,654.7 C1002.3,652.0 1010.6,646.2 1013.3,644.5" fill="none" stroke="#d0ccc3" stroke-width="2.2" filter="url(#b1)"/>
<path d="M976.5,681.2 C979.9,680.5 991.1,679.5 996.9,677.1 C1002.7,674.7 1008.8,668.6 1011.2,666.9" fill="none" stroke="#c5c1b8" stroke-width="2" filter="url(#b1)"/>
<path d="M978.6,671.0 C981.6,670.3 991.3,669.3 996.9,666.9 C1002.5,664.5 1009.7,658.4 1012.2,656.7" fill="none" stroke="#6f695f" stroke-width="3" filter="url(#b1)"/>
<path d="M954.1,689.4 L972.4,681.2 L1005.1,666.9 L992.9,709.8 L982.7,712.9Z" fill="#a59f94" stroke="#6f695f" stroke-width="0.5"/>
<path d="M931.6,587.3 C936.7,583.9 942.5,584.6 948.0,581.2 C953.5,577.8 956.8,573.0 964.3,566.9 C971.8,560.8 984.7,550.6 992.9,544.5 C1001.1,538.4 1006.5,532.2 1013.3,530.2 C1020.1,528.2 1030.1,527.1 1033.7,532.2 C1037.3,537.3 1035.7,551.6 1034.7,560.8 C1033.7,570.0 1030.5,579.1 1027.6,587.3 C1024.7,595.5 1023.1,602.0 1017.3,609.8 C1011.5,617.6 1000.4,626.1 992.9,634.3 C985.4,642.5 977.8,651.7 972.4,658.8 C967.0,665.9 965.3,671.3 960.2,677.1 C955.1,682.9 950.0,687.7 941.8,693.5 C933.6,699.3 921.1,707.2 911.2,711.8 C901.4,716.4 889.5,720.6 882.7,721.0 C875.9,721.4 871.8,717.5 870.4,713.9 C869.0,710.3 871.1,708.1 874.5,699.6 C877.9,691.1 885.4,675.1 890.8,662.9 C896.2,650.6 902.7,636.3 907.1,626.1 C911.5,615.9 913.2,608.1 917.3,601.6 C921.4,595.1 926.5,590.7 931.6,587.3Z" fill="#9f998e" stroke="#5a554d" stroke-width="0.6"/>
<path d="M898.0,710.8 C901.2,709.4 910.0,706.6 917.3,702.7 C924.6,698.8 934.8,692.4 941.8,687.3 C948.8,682.2 956.3,674.5 959.2,672.0" fill="none" stroke="#ffffff" stroke-width="3.2" stroke-linecap="round"/>
<path d="M893.9,704.7 C897.5,703.3 908.0,700.2 915.3,696.5 C922.6,692.8 931.0,687.3 937.8,682.2 C944.6,677.1 953.0,668.6 956.1,665.9" fill="none" stroke="#c9c5bb" stroke-width="1.5" filter="url(#b1)"/>
<path d="M956.1,601.6 C958.1,593.8 958.2,580.2 964.3,571.0 C970.4,561.8 984.7,553.0 992.9,546.5 C1001.1,540.0 1006.7,534.2 1013.3,532.2 C1019.9,530.2 1029.5,529.5 1032.7,534.3 C1035.9,539.1 1033.7,552.0 1032.7,560.8 C1031.7,569.6 1029.2,579.3 1026.5,587.3 C1023.8,595.3 1021.9,601.3 1016.3,608.8 C1010.7,616.3 1000.2,624.4 992.9,632.2 C985.6,640.0 977.7,650.1 972.4,655.7 C967.1,661.3 964.2,666.8 961.2,665.9 C958.2,665.0 956.7,655.9 954.1,650.6 C951.5,645.3 946.2,639.7 945.9,634.3 C945.5,628.9 950.3,623.5 952.0,618.0 C953.7,612.5 954.1,609.4 956.1,601.6Z" fill="#aaa499" stroke="#6f695f" stroke-width="0.5"/>
<path d="M972.4,601.6 C974.4,599.6 983.3,596.2 988.8,595.5 C994.2,594.8 1004.4,596.1 1005.1,597.6 C1005.8,599.1 997.7,603.0 992.9,604.7 C988.1,606.4 979.9,608.3 976.5,607.8 C973.1,607.3 970.4,603.6 972.4,601.6Z" fill="#857f74"/>
<path d="M986.7,577.1 C986.7,574.4 989.8,569.1 992.9,566.9 C996.0,564.7 1004.4,562.9 1005.1,563.9 C1005.8,564.9 996.9,570.2 996.9,573.1 C996.9,576.0 1005.8,579.5 1005.1,581.2 C1004.4,582.9 996.0,584.0 992.9,583.3 C989.8,582.6 986.7,579.8 986.7,577.1Z" fill="#8a8479"/>
<path d="M935.7,640.4 C937.2,640.8 940.4,649.0 940.8,652.7 C941.1,656.5 939.3,663.2 937.8,662.9 C936.3,662.5 932.0,654.4 931.6,650.6 C931.2,646.9 934.2,640.0 935.7,640.4Z" fill="#857f74"/>
<path d="M920.4,677.1 C921.8,674.7 928.4,672.7 931.6,671.0 C934.8,669.3 939.8,665.2 939.8,666.9 C939.8,668.6 934.3,678.1 931.6,681.2 C928.9,684.3 925.4,686.0 923.5,685.3 C921.6,684.6 919.0,679.5 920.4,677.1Z" fill="#857f74"/>
<path d="M925.5,626.1 C926.2,623.4 933.3,621.3 935.7,622.0 C938.1,622.7 940.5,627.5 939.8,630.2 C939.1,632.9 934.0,639.1 931.6,638.4 C929.2,637.7 924.8,628.8 925.5,626.1Z" fill="#857f74"/>
<path d="M898.0,624.1 C900.2,621.7 908.0,620.3 909.2,622.0 C910.4,623.7 906.5,629.5 905.1,634.3 C903.7,639.1 902.9,647.9 901.0,650.6 C899.1,653.3 894.8,653.0 893.9,650.6 C893.0,648.2 895.2,640.7 895.9,636.3 C896.6,631.9 895.8,626.5 898.0,624.1Z" fill="#3a3630"/>
<path d="M938.8,591.4 C939.6,589.5 943.7,587.7 944.9,588.4 C946.1,589.1 946.8,593.6 945.9,595.5 C945.0,597.4 941.0,600.3 939.8,599.6 C938.6,598.9 937.9,593.3 938.8,591.4Z" fill="#3a3630"/>
<path d="M1028,512 C1029.7,508.8 1036.0,505.5 1040,503 C1044.0,500.5 1049.0,496.5 1052,497 C1055.0,497.5 1057.7,500.8 1058,506 C1058.3,511.2 1056.7,524.0 1054,528 C1051.3,532.0 1046.0,531.0 1042,530 C1038.0,529.0 1032.3,525.0 1030,522 C1027.7,519.0 1026.3,515.2 1028,512Z" fill="#2f2b26" filter="url(#b1)"/>
<circle cx="931.6" cy="611.8" r="6.2" fill="#8a8479"/>
<circle cx="931.0" cy="611.0" r="4.9" fill="#cfcbc2"/>
<circle cx="932.4" cy="612.5999999999999" r="3.6" fill="#b5b0a6"/>
<circle cx="945.9" cy="612.9" r="6.2" fill="#8a8479"/>
<circle cx="945.3" cy="612.1" r="4.9" fill="#cfcbc2"/>
<circle cx="946.6999999999999" cy="613.6999999999999" r="3.6" fill="#b5b0a6"/>
<circle cx="1013.3" cy="594.5" r="7.2" fill="#8a8479"/>
<circle cx="1012.6999999999999" cy="593.7" r="5.9" fill="#cfcbc2"/>
<circle cx="1014.0999999999999" cy="595.3" r="4.6" fill="#b5b0a6"/>
<circle cx="940.8" cy="661.8" r="7" fill="#8a8479"/>
<circle cx="940.1999999999999" cy="661.0" r="5.7" fill="#cfcbc2"/>
<circle cx="941.5999999999999" cy="662.5999999999999" r="4.4" fill="#b5b0a6"/>
<circle cx="889.8" cy="714.9" r="5.5" fill="#8a8479"/>
<circle cx="889.1999999999999" cy="714.1" r="4.2" fill="#cfcbc2"/>
<circle cx="890.5999999999999" cy="715.6999999999999" r="2.9" fill="#b5b0a6"/>
<path d="M1001.0,595.5 C1002.0,595.2 1005.1,593.7 1007.1,593.5 C1009.1,593.3 1012.3,594.3 1013.3,594.5" fill="none" stroke="#b8b3a9" stroke-width="4" stroke-linecap="round"/>
<path d="M1088.8,579.5 L1113.1,589.7 L1138.6,587.1 L1102.9,605.0 L1062.0,639.4 L1023.8,675.2 L995.7,705.8 L1005.9,679.0 L1049.3,622.9Z" fill="#8a8479"/>
<path d="M998.3,701.9 C1003.0,696.8 1015.7,682.1 1026.3,671.3 C1036.9,660.5 1049.2,648.3 1062.0,636.9 C1074.8,625.5 1090.6,611.1 1102.9,603.0 C1115.2,594.9 1130.5,590.8 1136.0,588.4" fill="none" stroke="#c5c0b6" stroke-width="2.5" filter="url(#b1)"/>
<path d="M1072.2,491.5 C1071.8,488.9 1076.5,492.6 1085.0,497.3 C1093.5,502.0 1114.8,513.9 1123.3,519.5 C1131.8,525.1 1133.5,524.8 1136.0,531.0 C1138.5,537.2 1138.6,548.0 1138.6,556.5 C1138.6,565.0 1140.2,576.0 1136.0,582.0 C1131.8,588.0 1120.8,592.2 1113.1,592.2 C1105.4,592.2 1094.3,595.2 1090.1,582.0 C1085.8,568.8 1090.6,528.3 1087.6,513.2 C1084.6,498.1 1072.6,494.1 1072.2,491.5Z" fill="#9c968b" stroke="#5a554d" stroke-width="0.6"/>
<path d="M1092.7,515.7 C1096.1,518.2 1110.5,524.2 1113.1,531.0 C1115.6,537.8 1110.5,548.9 1108.0,556.5 C1105.5,564.1 1099.5,573.5 1097.8,576.9" fill="none" stroke="#7f796e" stroke-width="8" filter="url(#b3)"/>
<circle cx="1126.5" cy="555" r="21" fill="#8f897e" stroke="#5a554d" stroke-width="0.6"/>
<circle cx="1124.5" cy="553.5" r="17" fill="#b8b3a9" filter="url(#b2)"/>
<circle cx="1132" cy="557.5" r="14.5" fill="#a59f94" stroke="#7a7469" stroke-width="0.7"/>
<path d="M1110,562 A20.5,20.5 0 0 1 1119,536" stroke="#dedad1" stroke-width="2.8" fill="none" filter="url(#b1)"/>
<path d="M1058.2,502.4 L1072.2,491.5 L1085.0,497.9 L1088.8,513.2 L1090.6,582.0 L993.2,707.6 L985.5,710.9 L990.6,704.5 L1017.4,633.1Z" fill="url(#pl1)" stroke="#5a554d" stroke-width="0.7" stroke-linejoin="round"/>
<path d="M1051.8,499.1 L1060.0,503.0 L1025.8,635.6 L998.3,704.5 L985.5,710.9 L960.0,695.6 L960.0,684.1 L984.2,699.4 L1008.5,643.3Z" fill="#b3ada2" stroke="#6f695f" stroke-width="0.5" stroke-linejoin="round"/>
<path d="M722.0,245.7 L760.7,249.1 L763.0,258.2 L663.0,463.5 L651.9,465.5 L621.0,439.3Z" fill="#a4a29e" stroke="#77746f" stroke-width="0.6" stroke-linejoin="round"/>
<path d="M735.5,249.8 L634.9,447.3" fill="none" stroke="#7d7b77" stroke-width="2.0" filter="url(#b1)"/>
<path d="M749.1,254.0 L648.7,455.3" fill="none" stroke="#7d7b77" stroke-width="2.0" filter="url(#b1)"/>
<path d="M728.1,247.6 L627.3,442.9" fill="none" stroke="#bdbbb7" stroke-width="1.6" filter="url(#b1)"/>
<path d="M742.5,252.0 L642.0,451.4" fill="none" stroke="#bdbbb7" stroke-width="1.6" filter="url(#b1)"/>
<path d="M756.0,256.1 L655.9,459.4" fill="none" stroke="#bdbbb7" stroke-width="1.6" filter="url(#b1)"/>
<path d="M651.9,190.2 L678.2,201.0 L760.7,249.1 L763.0,258.2 L722.0,245.7 L673.1,220.5 L645.2,198.6Z" fill="#a3a19d" stroke="#77746f" stroke-width="0.6" stroke-linejoin="round"/>
<path d="M653.0,194.2 L678.2,205.3 L757.3,251.5" fill="none" stroke="#8c8a86" stroke-width="1.2" filter="url(#b1)"/>
<path d="M664.7,213.8 L722.0,242.4" fill="none" stroke="#bab8b4" stroke-width="1.4" filter="url(#b1)"/>
<path d="M646.2,196.9 L673.1,220.5 L584.6,411.7 L543.6,407.3 L543.6,401.6Z" fill="#6b6965" stroke="#55524d" stroke-width="0.6" stroke-linejoin="round"/>
<path d="M651.1,201.2 L551.0,403.4" fill="none" stroke="#83817d" stroke-width="2.2" filter="url(#b1)"/>
<path d="M660.2,209.2 L564.9,406.8" fill="none" stroke="#83817d" stroke-width="2.2" filter="url(#b1)"/>
<path d="M669.1,217.0 L578.5,410.2" fill="none" stroke="#83817d" stroke-width="2.2" filter="url(#b1)"/>
<path d="M655.9,205.4 L558.3,405.2" fill="none" stroke="#4f4d49" stroke-width="2.0" />
<path d="M656.7,206.1 L559.6,405.5" fill="none" stroke="#d8d5cb" stroke-width="1.1" />
<path d="M664.8,213.2 L571.9,408.5" fill="none" stroke="#4f4d49" stroke-width="2.0" />
<path d="M665.6,213.9 L573.1,408.8" fill="none" stroke="#d8d5cb" stroke-width="1.1" />
<path d="M672.6,220.0 L583.8,411.5" fill="none" stroke="#cfccc3" stroke-width="1.0" />
<path d="M543.6,400.2 L584.6,410.3 L622.7,435.2 L663.0,463.5 L651.9,465.5 L631.1,456.8 L543.6,409.6Z" fill="#8b8985" stroke="#5f5c57" stroke-width="0.6" stroke-linejoin="round"/>
<path d="M545.2,405.6 L584.0,415.0 L624.3,441.3" fill="none" stroke="#aeaca8" stroke-width="1.4" stroke-linejoin="round" filter="url(#b1)"/>
<path d="M1014.0,217.5 C1016.8,213.6 1016.5,212.3 1020.0,210.7 C1023.5,209.1 1030.0,207.9 1035.0,207.9 C1040.0,207.9 1046.4,209.1 1050.0,210.7 C1053.6,212.3 1054.0,213.6 1056.7,217.5 C1059.5,221.4 1064.4,228.2 1066.5,234.0 C1068.6,239.8 1069.0,246.0 1069.5,252.0 C1070.0,258.0 1068.7,265.8 1069.2,270.0 C1069.7,274.2 1072.0,275.0 1072.5,277.5 C1073.0,280.0 1074.2,282.0 1072.5,285.0 C1070.8,288.0 1066.8,292.8 1062.0,295.5 C1057.2,298.2 1050.0,300.4 1044.0,301.5 C1038.0,302.6 1032.0,302.7 1026.0,301.8 C1020.0,300.9 1012.8,298.8 1008.0,296.2 C1003.2,293.6 999.4,289.4 997.5,286.5 C995.6,283.6 996.2,281.8 996.7,279.0 C997.2,276.2 999.8,274.5 1000.5,270.0 C1001.2,265.5 1000.3,258.0 1000.8,252.0 C1001.3,246.0 1001.3,239.8 1003.5,234.0 C1005.7,228.2 1011.2,221.4 1014.0,217.5Z" fill="url(#cp1)" stroke="#6f6c66" stroke-width="0.7"/>
<ellipse cx="1035" cy="219.5" rx="19" ry="9.5" fill="#b5b2aa"/>
<ellipse cx="1036" cy="248" rx="10" ry="14" fill="#f3f2ee" filter="url(#b3)"/>
<path d="M999.0,283.5 C1001.5,285.1 1008.0,291.1 1014.0,293.2 C1020.0,295.3 1028.0,296.2 1035.0,296.2 C1042.0,296.2 1050.0,295.3 1056.0,293.2 C1062.0,291.1 1068.5,285.1 1071.0,283.5" fill="none" stroke="#d4d1ca" stroke-width="2" filter="url(#b1)"/>
<path d="M1000.8,271.5 C1003.5,272.5 1011.3,276.2 1017.0,277.5 C1022.7,278.8 1029.0,279.0 1035.0,279.0 C1041.0,279.0 1047.3,278.8 1053.0,277.5 C1058.7,276.2 1066.5,272.5 1069.2,271.5" fill="none" stroke="#8f8c85" stroke-width="1.5" filter="url(#b2)"/>
<path d="M200.5,455.2 C201.5,451.1 206.1,452.7 208.0,453.3 C209.9,453.9 211.2,455.3 211.7,459.0 C212.2,462.7 212.6,472.4 211.0,475.5 C209.4,478.6 203.8,481.1 202.0,477.7 C200.2,474.3 199.5,459.3 200.5,455.2Z" fill="#9b9892" stroke="#7a7771" stroke-width="0.5"/>
<path d="M179.5,452.2 C180.8,448.9 184.2,449.5 187.0,450.0 C189.8,450.5 193.5,453.7 196.0,455.2 C198.5,456.7 200.9,455.4 202.0,459.0 C203.1,462.6 205.7,472.9 202.7,477.0 C199.7,481.1 187.9,484.9 184.0,483.7 C180.1,482.4 180.2,474.8 179.5,469.5 C178.8,464.2 178.2,455.4 179.5,452.2Z" fill="#b3b0a9" stroke="#807d77" stroke-width="0.5"/>
<path d="M163.7,456.7 C165.8,454.9 171.9,453.6 175.0,454.2 C178.1,454.8 180.6,457.4 182.5,460.5 C184.4,463.6 186.2,468.2 186.7,472.5 C187.2,476.8 186.7,483.0 185.5,486.0 C184.3,489.0 182.0,490.5 179.5,490.5 C177.0,490.5 173.1,488.5 170.5,486.0 C167.9,483.5 165.1,479.0 163.7,475.5 C162.3,472.0 162.2,468.1 162.2,465.0 C162.2,461.9 161.6,458.5 163.7,456.7Z" fill="#a9a6a0" stroke="#7a7771" stroke-width="0.5"/>
<ellipse cx="172" cy="472.5" rx="7.2" ry="9.8" fill="#8a8781" transform="rotate(-25 172 472.5)"/>
<ellipse cx="172.5" cy="473.5" rx="5" ry="7" fill="#d5d3ce" transform="rotate(-25 172.5 473.5)"/>
<ellipse cx="170" cy="475.5" rx="3" ry="3.8" fill="#9f9c96" transform="rotate(-25 170 475.5)"/>
<path d="M348.4,535.5 L359.7,531.2 L398.7,563.3 L398.7,656.1 L348.4,621.4Z" fill="#7c7972" stroke="#55524c" stroke-width="0.7" stroke-linejoin="round"/>
<path d="M398.7,564.2 L413.5,550.3 L429.1,555.5 L429.1,642.2 L398.7,656.1Z" fill="#868379" stroke="#55524c" stroke-width="0.7" stroke-linejoin="round"/>
<path d="M359.7,531.2 L362.3,520.8 L375.3,514.7 L412.6,540.7 L413.5,550.3 L398.7,564.2Z" fill="#9f9c95" stroke="#6a6761" stroke-width="0.6" stroke-linejoin="round"/>
<path d="M362.3,520.8 L375.3,514.7 L412.6,540.7 L398.7,545.4Z" fill="#8a8780"/>
<path d="M372.7,524.3 C373.3,522.7 378.2,521.5 381.4,522.5 C384.6,523.5 390.9,528.3 391.8,530.3 C392.7,532.3 388.9,534.4 386.6,534.7 C384.3,535.0 380.2,533.8 377.9,532.1 C375.6,530.4 372.1,525.9 372.7,524.3Z" fill="#6a6761"/>
<path d="M392.7,539.0 C393.4,537.5 396.4,535.2 398.7,535.5 C401.0,535.8 406.1,539.1 406.5,540.7 C406.9,542.4 403.3,544.8 401.3,545.4 C399.3,546.0 395.8,545.3 394.4,544.2 C393.0,543.1 392.0,540.5 392.7,539.0Z" fill="#6a6761"/>
<path d="M398.7,564.5 L398.7,655.7" fill="none" stroke="#a19e96" stroke-width="1.5" filter="url(#b1)"/>
<rect x="1262.8" y="774.8" width="122.7" height="167.4" fill="#fff" stroke="#2a2a2a" stroke-width="1.4"/>
<line x1="1262.8" y1="857.8" x2="1385.5" y2="857.8" stroke="#2a2a2a" stroke-width="1.4"/>
<path d="M1309.6,805 L1309.6,838 A35,17 0 0 0 1379.6,838 L1379.6,805 Z" fill="url(#in1)" stroke="#6f6c66" stroke-width="0.6"/>
<ellipse cx="1344.6" cy="805" rx="35" ry="16.6" fill="#a9a69e" stroke="#8a8780" stroke-width="0.6"/>
<ellipse cx="1344.5" cy="806" rx="29" ry="13.5" fill="#8a8780"/>
<ellipse cx="1344" cy="808" rx="25" ry="11" fill="#9d9a92"/>
<path d="M1328.2,809.0 C1326.2,805.2 1327.9,796.8 1329.0,792.7 C1330.1,788.6 1334.3,786.5 1334.7,784.5 C1335.1,782.5 1330.3,781.5 1331.4,780.4 C1332.5,779.3 1337.4,778.1 1341.2,778.0 C1345.0,777.9 1351.6,778.2 1354.3,779.6 C1357.0,781.0 1356.5,785.3 1357.6,786.1 C1358.7,786.9 1359.4,782.9 1360.8,784.5 C1362.2,786.1 1364.3,792.6 1365.7,795.9 C1367.1,799.2 1370.9,801.1 1369.0,804.1 C1367.1,807.1 1358.9,812.0 1354.3,813.9 C1349.7,815.8 1345.5,816.3 1341.2,815.5 C1336.9,814.7 1330.2,812.8 1328.2,809.0Z" fill="#aaa79f" stroke="#77746d" stroke-width="0.5"/>
<path d="M1334.7,784.5 C1335.8,782.6 1341.1,781.5 1344.5,781.2 C1347.9,780.9 1354.0,781.0 1355.1,782.9 C1356.2,784.8 1352.4,789.5 1351.0,792.7 C1349.6,796.0 1349.1,802.4 1346.9,802.4 C1344.7,802.4 1340.0,795.7 1338.0,792.7 C1336.0,789.7 1333.6,786.4 1334.7,784.5Z" fill="#66635d"/>
<path d="M1352.7,800.8 C1353.2,796.4 1355.4,788.3 1357.6,787.8 C1359.8,787.3 1363.9,794.6 1365.7,797.6 C1367.5,800.6 1370.1,803.0 1368.2,805.7 C1366.3,808.4 1356.9,814.7 1354.3,813.9 C1351.7,813.1 1352.2,805.1 1352.7,800.8Z" fill="#8f8c85"/>
<path d="M1310.5,813.9 C1312.9,815.4 1319.2,821.0 1324.9,822.9 C1330.6,824.8 1338.0,825.3 1344.5,825.3 C1351.0,825.3 1358.4,824.7 1364.1,822.9 C1369.8,821.1 1376.3,816.1 1378.8,814.7" fill="none" stroke="#e6e4df" stroke-width="1.6" filter="url(#b1)"/>
<g filter="url(#b0)">
<path d="M1286.4,867.9 C1286.7,866.2 1288.9,864.6 1290.9,863.4 C1292.9,862.2 1294.3,861.1 1298.6,860.5 C1302.9,859.9 1313.1,859.2 1316.6,859.5 C1320.1,859.8 1319.6,861.0 1319.8,862.1 C1320.0,863.2 1320.2,864.2 1317.9,865.9 C1315.7,867.6 1310.0,870.5 1306.3,872.4 C1302.6,874.3 1298.5,876.5 1296.0,877.5 C1293.5,878.5 1292.7,878.8 1291.5,878.1 C1290.3,877.5 1289.8,875.3 1288.9,873.6 C1288.1,871.9 1286.1,869.6 1286.4,867.9Z" stroke="#1c1c1c" stroke-width="1.25" fill="none" stroke-linecap="round" stroke-linejoin="round"/>
<path d="M1319.8,858.9 C1321.1,859.5 1325.2,860.9 1327.5,862.7 C1329.8,864.5 1332.3,867.3 1333.9,869.8 C1335.5,872.3 1336.6,875.1 1337.1,877.5 C1337.6,879.9 1337.6,881.6 1337.1,883.9 C1336.6,886.1 1336.0,888.4 1333.9,891.0 C1331.8,893.6 1328.0,897.0 1324.3,899.4 C1320.5,901.8 1315.7,903.9 1311.4,905.1 C1307.1,906.3 1301.6,906.6 1298.6,906.7 C1295.6,906.8 1294.7,906.3 1293.4,905.8 C1292.1,905.3 1291.3,904.2 1290.9,903.9" stroke="#1c1c1c" stroke-width="1.25" fill="none" stroke-linecap="round" stroke-linejoin="round"/>
<path d="M1284.4,880.7 C1284.9,881.2 1285.7,882.6 1287.6,883.9 C1289.5,885.2 1293.6,887.4 1296.0,888.4 C1298.4,889.4 1299.2,890.1 1301.8,889.7 C1304.4,889.3 1307.7,887.6 1311.4,885.9 C1315.2,884.2 1320.3,881.4 1324.3,879.4 C1328.3,877.4 1333.4,874.6 1335.2,873.6" stroke="#1c1c1c" stroke-width="1.25" fill="none" stroke-linecap="round" stroke-linejoin="round"/>
<path d="M1293.4,892.9 C1294.7,893.2 1298.5,894.8 1301.1,894.9 C1303.7,895.0 1306.7,894.0 1308.9,893.6 C1311.2,893.2 1312.0,893.4 1314.6,892.3 C1317.2,891.2 1321.3,889.0 1324.3,887.1 C1327.3,885.2 1330.6,882.5 1332.6,880.7 C1334.6,878.9 1335.6,877.0 1336.2,876.2" stroke="#1c1c1c" stroke-width="1.25" fill="none" stroke-linecap="round" stroke-linejoin="round"/>
<path d="M1294.7,892.6 C1295.1,892.3 1295.2,891.3 1297.3,891.0 C1299.4,890.7 1305.2,890.4 1307.6,890.7 C1309.9,891.0 1310.8,892.5 1311.4,892.9" stroke="#1c1c1c" stroke-width="1.25" fill="none" stroke-linecap="round" stroke-linejoin="round"/>
<path d="M1263.9,858.2 C1265.2,858.6 1269.0,859.4 1271.6,860.8 C1274.2,862.2 1277.5,864.7 1279.3,866.6 C1281.1,868.5 1281.8,870.8 1282.5,872.4 C1283.2,874.0 1283.6,875.6 1283.8,876.2" stroke="#1c1c1c" stroke-width="1.25" fill="none" stroke-linecap="round" stroke-linejoin="round"/>
<path d="M1263.9,869.8 C1265.4,870.5 1270.3,873.2 1272.9,874.3 C1275.5,875.4 1277.4,875.7 1279.3,876.2 C1281.2,876.7 1282.5,876.7 1284.4,877.2 C1286.3,877.7 1289.8,878.8 1290.9,879.1" stroke="#1c1c1c" stroke-width="1.25" fill="none" stroke-linecap="round" stroke-linejoin="round"/>
<path d="M1280.6,867.9 C1279.8,868.5 1277.4,870.3 1276.1,871.7 C1274.8,873.1 1273.7,874.5 1272.9,876.2 C1272.2,877.9 1271.8,881.0 1271.6,882.0" stroke="#1c1c1c" stroke-width="1.25" fill="none" stroke-linecap="round" stroke-linejoin="round"/>
<path d="M1263.9,876.2 C1264.7,876.7 1266.8,878.3 1268.4,879.4 C1270.0,880.5 1272.7,882.1 1273.5,882.6" stroke="#1c1c1c" stroke-width="1.25" fill="none" stroke-linecap="round" stroke-linejoin="round"/>
<path d="M1263.9,889.1 C1264.5,888.8 1266.5,888.2 1267.7,887.1 C1268.9,886.0 1270.4,883.4 1270.9,882.6" stroke="#1c1c1c" stroke-width="1.25" fill="none" stroke-linecap="round" stroke-linejoin="round"/>
<path d="M1263.9,892.9 C1265.4,893.5 1271.0,895.4 1272.9,896.8 C1274.8,898.2 1274.5,899.8 1275.4,901.3 C1276.4,902.8 1277.1,904.5 1278.6,905.8 C1280.1,907.1 1282.7,908.7 1284.4,909.0 C1286.1,909.3 1287.6,908.4 1288.9,907.7 C1290.2,907.1 1291.6,905.5 1292.1,905.1" stroke="#1c1c1c" stroke-width="1.25" fill="none" stroke-linecap="round" stroke-linejoin="round"/>
<path d="M1283.8,880.7 C1284.3,881.1 1285.9,882.0 1287.0,883.3 C1288.1,884.6 1289.1,886.8 1290.2,888.4 C1291.3,890.0 1292.9,892.1 1293.4,892.9" stroke="#1c1c1c" stroke-width="1.25" fill="none" stroke-linecap="round" stroke-linejoin="round"/>
</g>
<path d="M1272.9,891.0 C1273.4,890.5 1274.6,888.3 1276.1,888.1 C1277.6,887.9 1280.0,888.5 1281.9,890.0 C1283.8,891.5 1286.6,895.7 1287.6,896.8" stroke="#8a8a8a" stroke-width="1.6" fill="none"/>
<ellipse cx="1281.5" cy="899.5" rx="5.6" ry="9.6" transform="rotate(-30 1281.5 899.5)" stroke="#1c1c1c" stroke-width="1.25" fill="#fff"/>
<path d="M1326.9,906.5 L1358.1000000000001,905.9000000000001 L1352.0,912.0 L1376.5,925.4000000000001 L1360.6000000000001,936.5 L1335.5,921.8000000000001 L1327.5,927.9000000000001Z" fill="#111" stroke="#111" stroke-width="2" stroke-linejoin="round"/>
<path d="M1325.7,904.3 L1356.9,903.7 L1350.8,909.8 L1375.3,923.2 L1359.4,934.3 L1334.3,919.6 L1326.3,925.7Z" fill="#fff" stroke="#111" stroke-width="1.3" stroke-linejoin="round"/>
<rect x="828.8" y="400.8" width="45.5" height="37.5" rx="5" ry="5" fill="#e5ebf5" stroke="#c6d6ec" stroke-width="1.3"/><text x="851.05" y="426.15000000000003" font-size="23.4" text-anchor="middle" textLength="12.7" lengthAdjust="spacingAndGlyphs" fill="#3b7ac3">1</text>
<rect x="472.6" y="828.8" width="44.8" height="37.2" rx="5" ry="5" fill="#e5ebf5" stroke="#c6d6ec" stroke-width="1.3"/><text x="494.5" y="854.0" font-size="23.4" text-anchor="middle" textLength="12.7" lengthAdjust="spacingAndGlyphs" fill="#3b7ac3">2</text>
<rect x="273.8" y="569.3" width="45.5" height="37.5" rx="5" ry="5" fill="#e5ebf5" stroke="#c6d6ec" stroke-width="1.3"/><text x="296.05" y="594.65" font-size="23.4" text-anchor="middle" textLength="12.7" lengthAdjust="spacingAndGlyphs" fill="#3b7ac3">3</text>
<rect x="383" y="233.6" width="45.5" height="37.5" rx="5" ry="5" fill="#e5ebf5" stroke="#c6d6ec" stroke-width="1.3"/><text x="405.25" y="258.95" font-size="23.4" text-anchor="middle" textLength="12.7" lengthAdjust="spacingAndGlyphs" fill="#3b7ac3">4</text>
<rect x="534.5" y="232.2" width="45.5" height="37.5" rx="5" ry="5" fill="#e5ebf5" stroke="#c6d6ec" stroke-width="1.3"/><text x="556.75" y="257.55" font-size="23.4" text-anchor="middle" textLength="12.7" lengthAdjust="spacingAndGlyphs" fill="#3b7ac3">5</text>
<rect x="163.6" y="354.5" width="45.5" height="37.5" rx="5" ry="5" fill="#e5ebf5" stroke="#c6d6ec" stroke-width="1.3"/><text x="185.85" y="379.85" font-size="23.4" text-anchor="middle" textLength="12.7" lengthAdjust="spacingAndGlyphs" fill="#3b7ac3">6</text>
<rect x="927.8" y="232.5" width="45.5" height="37.5" rx="5" ry="5" fill="#e5ebf5" stroke="#c6d6ec" stroke-width="1.3"/><text x="950.05" y="257.85" font-size="23.4" text-anchor="middle" textLength="12.7" lengthAdjust="spacingAndGlyphs" fill="#3b7ac3">7</text>
<rect x="1265.1" y="776.4" width="44.3" height="34.8" rx="5" ry="5" fill="#e5ebf5" stroke="#c6d6ec" stroke-width="1.3"/><text x="1286.75" y="800.4" font-size="23.4" text-anchor="middle" textLength="12.7" lengthAdjust="spacingAndGlyphs" fill="#3b7ac3">2</text>
<line x1="846.3" y1="443" x2="846.3" y2="493.8" stroke="#111" stroke-width="2.2" stroke-linecap="butt"/>
<line x1="400.5" y1="163.8" x2="400.5" y2="234" stroke="#111" stroke-width="2.2" stroke-linecap="butt"/>
<line x1="302.5" y1="589" x2="344.6" y2="589" stroke="#111" stroke-width="2.2" stroke-linecap="butt"/>
<line x1="565.4" y1="251.5" x2="611" y2="251.5" stroke="#111" stroke-width="2.2" stroke-linecap="butt"/>
<line x1="179.6" y1="397" x2="179.6" y2="449.5" stroke="#111" stroke-width="2.2" stroke-linecap="butt"/>
<line x1="961" y1="252" x2="995" y2="252" stroke="#111" stroke-width="2.2" stroke-linecap="butt"/>
<line x1="430" y1="809.2" x2="472" y2="832.7" stroke="#fff" stroke-width="5" stroke-linecap="round"/>
<line x1="432.2" y1="810.4" x2="474.5" y2="834.2" stroke="#111" stroke-width="1.9" stroke-linecap="butt"/>
<path d="M479.5,865.8 A25.6,25.6 0 0 1 479.5,831.6 M481.7,829.4 A25.6,25.6 0 0 1 515.3,829.4 M522.4,839.7 A25.6,25.6 0 0 1 522.4,857.7 M510.5,871.3 A25.6,25.6 0 0 1 486.5,871.3" fill="none" stroke="#111" stroke-width="1.7" stroke-linecap="round"/>
<text x="991.8" y="51.5" font-size="47" fill="#a9a9a9" textLength="383.5" lengthAdjust="spacingAndGlyphs">bmw-autocats.ru</text>
<text x="29" y="954.6" font-size="32" fill="#6b6868" textLength="257" lengthAdjust="spacingAndGlyphs">bmw-autocats.ru</text>
</svg>
</body></html>
